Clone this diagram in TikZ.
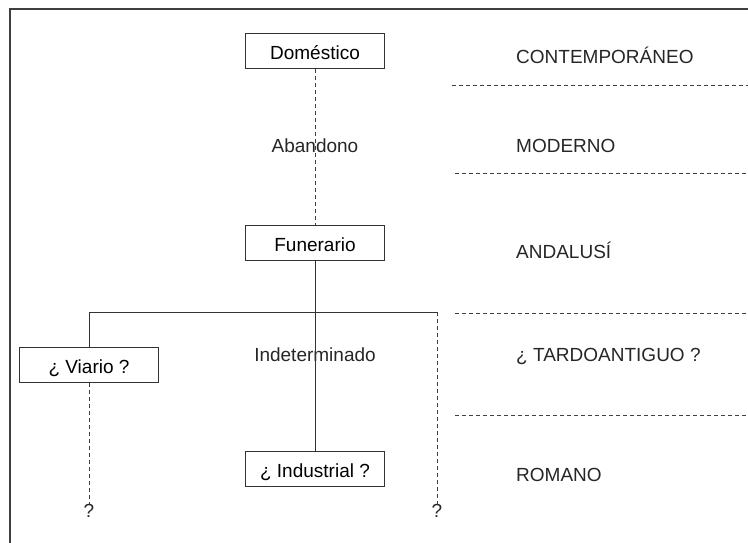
\documentclass[tikz,border=0pt]{standalone}
\usepackage{fontspec}
\setmainfont{Liberation Sans}
\tikzset{
  caja/.style={draw=black!80, line width=1pt, minimum width=139pt, minimum height=35pt,
    inner sep=0pt, text height=17.6pt, text depth=0pt, font=\fontsize{19}{23}\selectfont},
  etiqueta/.style={inner sep=0pt, text height=13.6pt, text depth=0pt,
    font=\fontsize{19}{23}\selectfont, text=black!85},
  trazo/.style={draw=black!75, line width=1pt, dash pattern=on 4pt off 3pt},
  linea/.style={draw=black!80, line width=1pt}
}
\begin{document}
\begin{tikzpicture}[x=1pt,y=-1pt]
\useasboundingbox (0,0) rectangle (748,543);
\draw [black!75, line width=2pt] (10,543) -- (10,9) -- (748,9);
% usos
\node [caja] (dom) at (315,51) {Doméstico};
\node [caja] (fun) at (315,242.5) {Funerario};
\node [caja] (via) at (89,364.5) {¿ Viario ?};
\node [caja] (ind) at (315,469) {¿ Industrial ?};
\node [etiqueta] (aba) at (315,146) {Abandono};
\node [etiqueta] (indet) at (315,355) {Indeterminado};
\node [etiqueta] (q1) at (89,511) {?};
\node [etiqueta] (q2) at (437,511) {?};
\coordinate (izq) at (89,312);
\coordinate (der) at (437,312);
\draw [trazo] (dom) -- (fun);
\draw [linea] (fun) -- (ind);
\draw [linea] (via) -- (izq) -- (der);
\draw [trazo] (der) -- (q2);
\draw [trazo] (via) -- (q1);
% periodos
\node [etiqueta, anchor=west] (cont) at (516,57) {CONTEMPORÁNEO};
\node [etiqueta, anchor=west] (mod) at (516,146) {MODERNO};
\node [etiqueta, anchor=west] (and) at (516,252) {ANDALUSÍ};
\node [etiqueta, anchor=west] (tard) at (516,355) {¿ TARDOANTIGUO ?};
\node [etiqueta, anchor=west] (rom) at (516,475) {ROMANO};
\draw [trazo] (452,86) -- (748,86);
\draw [trazo] (455,173) -- (748,173);
\draw [trazo] (455,313) -- (748,313);
\draw [trazo] (455,415) -- (748,415);
\end{tikzpicture}
\end{document}
